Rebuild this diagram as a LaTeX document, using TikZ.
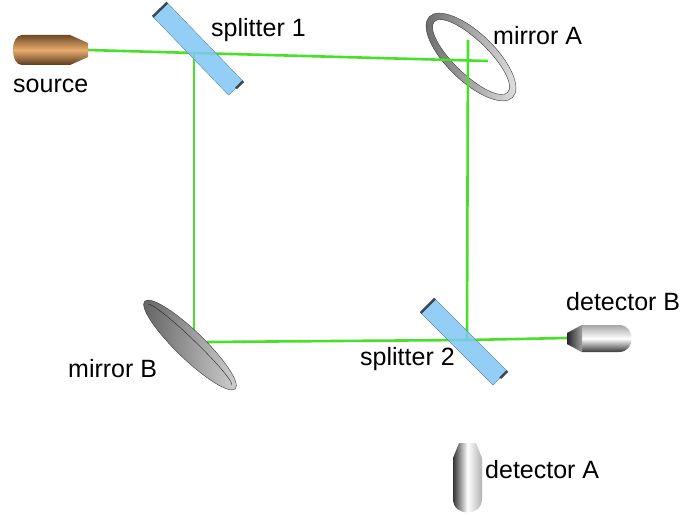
\documentclass[tikz,border=0pt]{standalone}
\usepackage{fontspec}
\setmainfont{Liberation Sans}

\definecolor{laser}{RGB}{70,225,40}
\definecolor{glass}{RGB}{128,198,245}
\definecolor{slabend}{RGB}{60,70,85}
\definecolor{brdark}{RGB}{110,74,40}
\definecolor{brlight}{RGB}{232,172,108}

\begin{document}
\begin{tikzpicture}[x=1pt,y=-1pt,
	beam/.style={laser,line width=2.6pt},
	splitter/.style={rectangle,fill=glass,fill opacity=.85,draw=glass!60!black,line width=.3pt,inner sep=0pt},
	slabcap/.style={slabend,line width=2.5pt},
	lbl/.style={anchor=base west,inner sep=0pt,font=\fontsize{25}{30}\selectfont},
	steel/.style={top color=gray!70,bottom color=gray!45!black,middle color=white},
	bronze/.style={top color=brdark,bottom color=brdark!80!black,middle color=brlight}]
	\useasboundingbox (0,0) rectangle (683,516);
	% beam points
	\coordinate (srcTip) at (88,50);
	\coordinate (s1) at (194,53);
	\coordinate (s2) at (467,340);
	\coordinate (mA) at (471,57);
	\coordinate (hitA) at (488,61);
	\coordinate (topA) at (468,40);
	\coordinate (mB) at (190,345);
	\coordinate (hitB) at (194,333);
	\coordinate (outB) at (207,342);
	\coordinate (inD) at (567,338);
	% mirror A (ring)
	\shade[even odd rule,left color=gray!80!black,right color=gray!20,draw=gray!45!black,line width=.4pt]
		(mA) ellipse[x radius=58pt,y radius=24pt,rotate=-44]
		(mA) ellipse[x radius=51pt,y radius=17pt,rotate=-44];
	% beams
	\draw[beam] (srcTip) -- (s1) -- (hitA);
	\draw[beam] (s1) -- (hitB);
	\draw[beam] (topA) -- (s2) -- (inD);
	\draw[beam] (outB) -- (s2);
	% splitters
	\node[splitter,minimum width=109pt,minimum height=20pt,rotate=-46] (spl1) at (198,49) {};
	\draw[slabcap] (spl1.north west) -- (spl1.south west);
	\draw[slabcap] (spl1.east) -- (spl1.north east);
	\node[splitter,minimum width=102pt,minimum height=20pt,rotate=-45] (spl2) at (464,342) {};
	\draw[slabcap] (spl2.north west) -- (spl2.south west);
	\draw[slabcap] (spl2.east) -- (spl2.north east);
	% mirror B
	\shade[left color=gray!75!black,right color=gray!35,draw=gray!45!black,line width=.4pt]
		(mB) ellipse[x radius=63pt,y radius=14pt,rotate=-44];
	\begin{scope}[shift={(mB)},rotate=-44]
		\draw[gray!30!black,line width=.4pt] (58pt,0pt) arc[start angle=0,end angle=180,x radius=58pt,y radius=6pt];
	\end{scope}
	% source
	\shade[bronze] (22,35) -- (70,35) -- (88,43) -- (88,57) -- (70,65) -- (22,65)
		.. controls (10,65) and (10,35) .. (22,35) -- cycle;
	% detector B
	\shade[steel] (567,333) -- (582,325) -- (619,325) .. controls (636,325) and (636,352) .. (619,352)
		-- (582,352) -- (567,344) -- cycle;
	\shade[left color=gray!30!black,right color=gray!75] (567,333) -- (582,325) -- (582,352) -- (567,344) -- cycle;
	% detector A
	\shade[left color=gray!40!black,right color=gray!60,middle color=white] (459,443) -- (476,443) -- (482,458)
		-- (482,499) .. controls (482,517) and (453,517) .. (453,499) -- (453,458) -- cycle;
	% labels
	\node[lbl] (lblS1) at (211,37) {splitter 1};
	\node[lbl] (lblSrc) at (13,93) {source};
	\node[lbl] (lblMA) at (493,45) {mirror A};
	\node[lbl] (lblMB) at (68,377) {mirror B};
	\node[lbl] (lblS2) at (360,365) {splitter 2};
	\node[lbl] (lblDB) at (566,310) {detector B};
	\node[lbl] (lblDA) at (485,478) {detector A};
\end{tikzpicture}
\end{document}
